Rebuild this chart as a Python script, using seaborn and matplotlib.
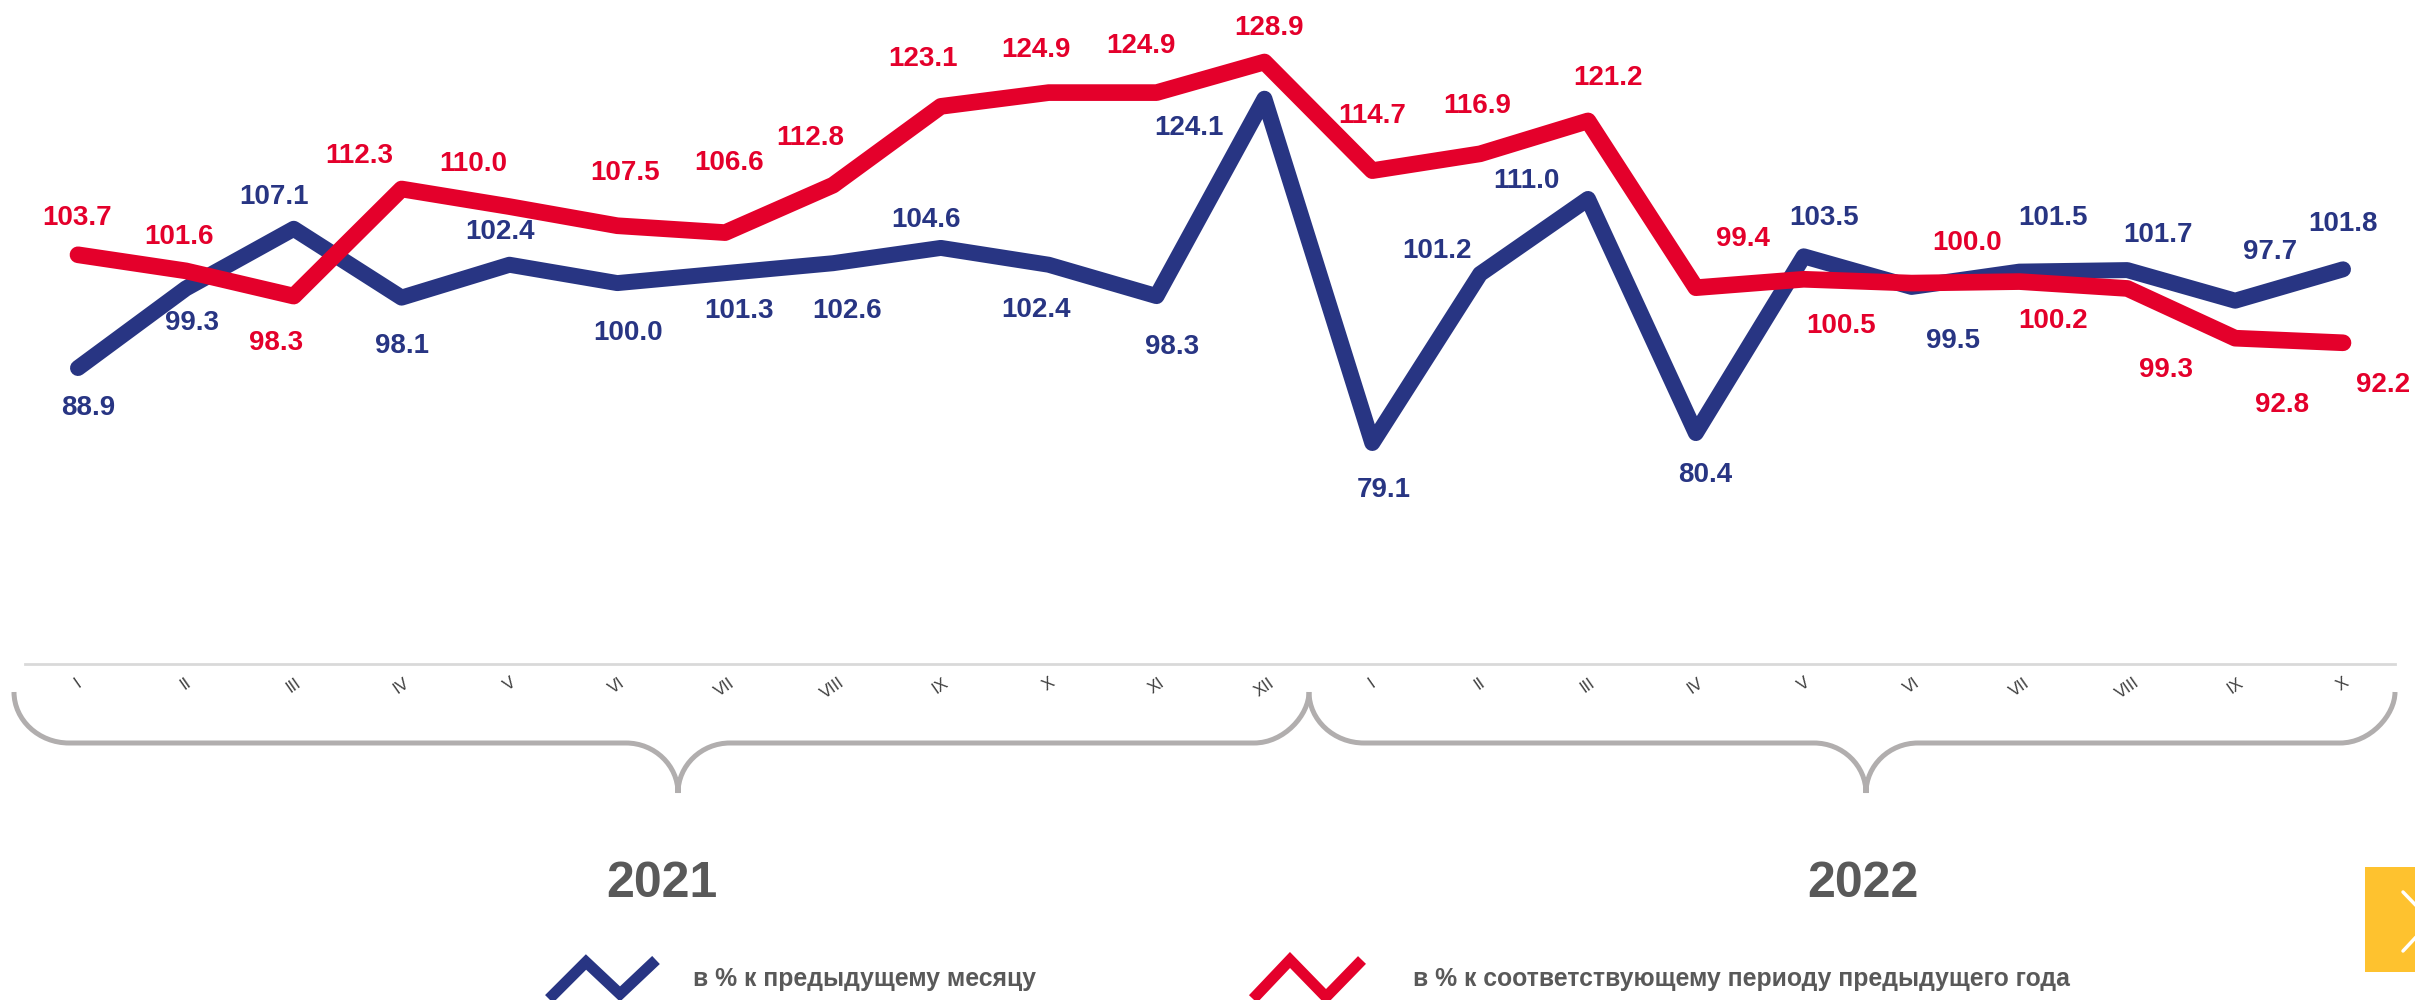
import numpy as np
import pandas as pd
import matplotlib
matplotlib.use("Agg")
import matplotlib.pyplot as plt
import seaborn as sns
from matplotlib.path import Path
from matplotlib.patches import PathPatch, Rectangle
from matplotlib.lines import Line2D

# ---------------- data ----------------
months = ["I", "II", "III", "IV", "V", "VI", "VII", "VIII", "IX", "X", "XI", "XII",
          "I", "II", "III", "IV", "V", "VI", "VII", "VIII", "IX", "X"]
years = ["2021", "2022"]
mom = [88.9, 99.3, 107.1, 98.1, 102.4, 100.0, 101.3, 102.6, 104.6, 102.4, 98.3, 124.1,
       79.1, 101.2, 111.0, 80.4, 103.5, 99.5, 101.5, 101.7, 97.7, 101.8]
yoy = [103.7, 101.6, 98.3, 112.3, 110.0, 107.5, 106.6, 112.8, 123.1, 124.9, 124.9, 128.9,
       114.7, 116.9, 121.2, 99.4, 100.5, 100.0, 100.2, 99.3, 92.8, 92.2]
series_names = ["в % к предыдущему месяцу",
                "в % к соответствующему периоду предыдущего года"]

# ---------------- styling / layout ----------------
BLUE = "#283583"
RED = "#E4002B"
GRAY_TXT = "#595959"
BRACE = "#b1aeae"

# label offsets (pixels, dx right, dy down to label centre)
mom_off = [(10, 37), (6, 32), (-20, -35), (0, 45), (-9, -36), (11, 47), (14, 35), (14, 45),
           (-15, -31), (-13, 42), (15, 48), (-75, 26), (11, 44), (-43, -26), (-62, -21),
           (9, 39), (20, -41), (41, 51), (34, -57), (31, -38), (35, -52), (0, -48)]
yoy_off = [(-1, -40), (-7, -37), (-18, 44), (-42, -36), (-36, -46), (8, -56), (4, -73),
           (-23, -50), (-18, -50), (-13, -46), (-16, -50), (5, -37), (0, -58), (-3, -51),
           (20, -46), (47, -52), (37, 44), (55, -43), (34, 36), (39, 79), (47, 64), (40, 39)]

sns.set_style("white")
plt.rcParams["font.family"] = ["Liberation Sans", "DejaVu Sans"]

W, H = 2415, 1000
fig = plt.figure(figsize=(W / 100, H / 100), dpi=100)
fig.patch.set_facecolor("white")


def F(x, y):
    return (x / W, 1 - y / H)


# axes geometry in pixels
ax_left, ax_right, ax_top, ax_bottom = 25, 2395, 0, 664
x0pix, x1pix = 78, 2343
n = len(months)
step = (x1pix - x0pix) / (n - 1)
yscale = (443 - 62) / (128.9 - 79.1)   # px per unit
ref_v, ref_px = 128.9, 62

ax = fig.add_axes([ax_left / W, 1 - ax_bottom / H, (ax_right - ax_left) / W,
                   (ax_bottom - ax_top) / H])
ax.patch.set_alpha(0)

df = pd.DataFrame({
    "idx": list(range(n)) * 2,
    "value": mom + yoy,
    "series": [series_names[0]] * n + [series_names[1]] * n,
})

sns.lineplot(data=df[df.series == series_names[0]], x="idx", y="value", color=BLUE,
             linewidth=11.5, estimator=None, sort=False, ax=ax,
             solid_capstyle="round", solid_joinstyle="round", zorder=2)
sns.lineplot(data=df[df.series == series_names[1]], x="idx", y="value", color=RED,
             linewidth=12, estimator=None, sort=False, ax=ax,
             solid_capstyle="round", solid_joinstyle="round", zorder=3)

ax.set_xlim((ax_left - x0pix) / step, (ax_right - x0pix) / step)
ax.set_ylim(ref_v - (ax_bottom - ref_px) / yscale, ref_v + (ref_px - ax_top) / yscale)

ax.set_xticks(range(n))
ax.set_xticklabels(months, rotation=35, fontsize=12, color="#404040")
ax.tick_params(axis="x", length=0, pad=8)
ax.set_yticks([])
ax.set_xlabel("")
ax.set_ylabel("")
for s in ["left", "right", "top"]:
    ax.spines[s].set_visible(False)
ax.spines["bottom"].set_color("#d9d9d9")
ax.spines["bottom"].set_linewidth(2)

# data labels
for vals, offs, col in [(mom, mom_off, BLUE), (yoy, yoy_off, RED)]:
    for i, (v, (dx, dy)) in enumerate(zip(vals, offs)):
        ax.annotate(f"{v:.1f}", xy=(i, v), xytext=(dx, -(dy + 10)),
                    textcoords="offset pixels", ha="center", va="baseline",
                    fontsize=20, fontweight="bold", color=col, zorder=5,
                    annotation_clip=False)


# braces
def brace(x0, xc, x1, ytop=692, ymid=743, ybot=793, r=55, r2=52, k=0.55):
    pts = [
        (x0, ytop),
        (x0, ytop + k * (ymid - ytop)), (x0 + r - k * r, ymid), (x0 + r, ymid),
        (xc - r2, ymid),
        (xc - r2 + k * r2, ymid), (xc, ybot - k * (ybot - ymid)), (xc, ybot),
        (xc, ybot - k * (ybot - ymid)), (xc + r2 - k * r2, ymid), (xc + r2, ymid),
        (x1 - r, ymid),
        (x1 - r + k * r, ymid), (x1, ymid - k * (ymid - ytop)), (x1, ytop),
    ]
    codes = [Path.MOVETO,
             Path.CURVE4, Path.CURVE4, Path.CURVE4,
             Path.LINETO,
             Path.CURVE4, Path.CURVE4, Path.CURVE4,
             Path.CURVE4, Path.CURVE4, Path.CURVE4,
             Path.LINETO,
             Path.CURVE4, Path.CURVE4, Path.CURVE4]
    p = Path([F(x, y) for x, y in pts], codes)
    patch = PathPatch(p, transform=fig.transFigure, fill=False, edgecolor=BRACE,
                      linewidth=3.6, capstyle="butt")
    fig.add_artist(patch)


brace(14, 678, 1309)
brace(1309, 1866, 2395)

# year labels
for yr, xc in zip(years, [662, 1863]):
    fig.text(*F(xc, 897), yr, ha="center", va="baseline", fontsize=36,
             fontweight="bold", color=GRAY_TXT)

# legend
icons = [
    ([(549, 999), (586, 962), (620, 994), (656, 960)], BLUE, 693),
    ([(1253, 999), (1290, 960), (1326, 997), (1362, 960)], RED, 1413),
]
for (pts, col, tx), name in zip(icons, series_names):
    xs, ys = zip(*[F(x, y) for x, y in pts])
    fig.add_artist(Line2D(xs, ys, transform=fig.transFigure, color=col, linewidth=8,
                          solid_joinstyle="miter", solid_capstyle="butt"))
    fig.text(*F(tx, 986), name, ha="left", va="baseline", fontsize=17.8,
             fontweight="bold", color=GRAY_TXT)

# yellow navigation button
x_, y_ = F(2365, 972)
fig.add_artist(Rectangle((x_, y_), 50 / W, 105 / H, transform=fig.transFigure,
                         facecolor="#FEC22F", edgecolor="none"))
cx, cy = zip(*[F(2403, 892), F(2431, 921), F(2403, 951)])
fig.add_artist(Line2D(cx, cy, transform=fig.transFigure, color="white", linewidth=2.5,
                      solid_capstyle="round"))

fig.savefig("out.png", dpi=100)
